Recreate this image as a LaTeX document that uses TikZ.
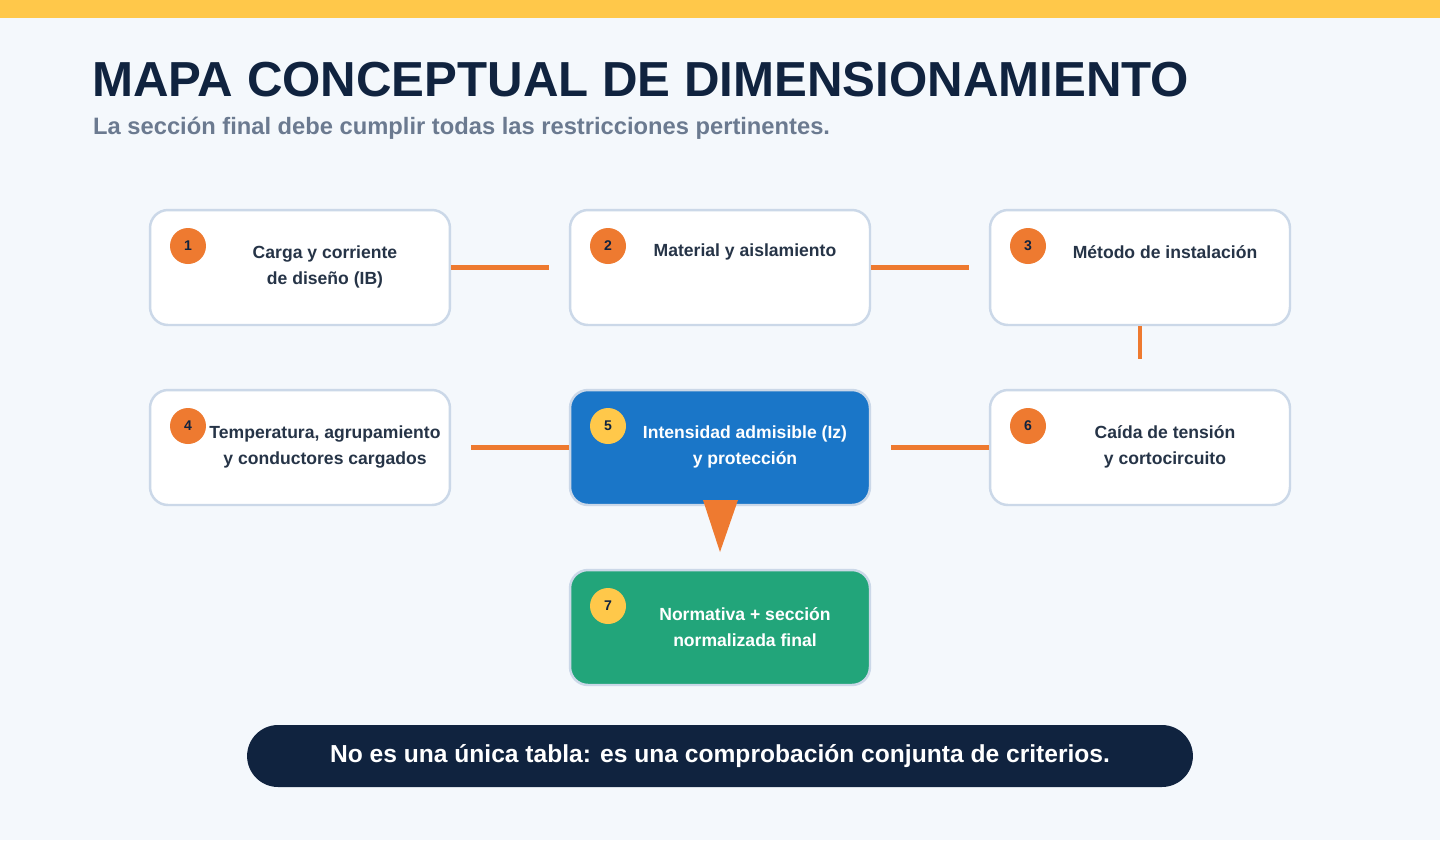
\documentclass[tikz,border=0pt]{standalone}
\usepackage{fontspec}
\setmainfont{Liberation Sans}
\usetikzlibrary{positioning}
\definecolor{bgc}{HTML}{F4F8FC}
\definecolor{topbar}{HTML}{FFC84A}
\definecolor{navy}{HTML}{10233F}
\definecolor{subgray}{HTML}{6B7A90}
\definecolor{boxline}{HTML}{CBD8E8}
\definecolor{accent}{HTML}{EE7A30}
\definecolor{bluebox}{HTML}{1A76C8}
\definecolor{greenbox}{HTML}{22A57A}
\definecolor{txt}{HTML}{263447}
\begin{document}
\begin{tikzpicture}[x=0.02cm,y=-0.02cm,
  stage/.style={draw=boxline,line width=1.4pt,rounded corners=0.36cm,fill=white,
    minimum width=6cm,minimum height=2.3cm,inner sep=0pt},
  stagetext/.style={font=\bfseries\fontsize{10}{15}\selectfont,text=txt,align=center},
  badge/.style={circle,fill=accent,minimum size=0.72cm,inner sep=0pt,
    font=\bfseries\fontsize{8}{8}\selectfont,text=navy},
  link/.style={draw=accent,line width=2.8pt}]
  % background
  \fill[bgc] (0,0) rectangle (1440,840);
  \fill[topbar] (0,0) rectangle (1440,18);
  \node[anchor=west,font=\bfseries\fontsize{28}{30}\selectfont,text=navy] (title) at (86,80) {MAPA CONCEPTUAL DE DIMENSIONAMIENTO};
  \node[anchor=west,font=\bfseries\fontsize{13.5}{16}\selectfont,text=subgray] (sub) at (87,128) {La sección final debe cumplir todas las restricciones pertinentes.};
  % boxes
  \node[stage] (b1) at (300,267.5) {};
  \node[stage] (b2) at (720,267.5) {};
  \node[stage] (b3) at (1140,267.5) {};
  \node[stage] (b4) at (300,447.5) {};
  \node[stage,fill=bluebox] (b5) at (720,447.5) {};
  \node[stage] (b6) at (1140,447.5) {};
  \node[stage,fill=greenbox] (b7) at (720,627.5) {};
  % texts
  \node[stagetext] (t1) at (325,267) {Carga y corriente\\de diseño (IB)};
  \node[stagetext] (t2) at (745,252) {Material y aislamiento};
  \node[stagetext] (t3) at (1165,252) {Método de instalación};
  \node[stagetext] (t4) at (325,447) {Temperatura, agrupamiento\\y conductores cargados};
  \node[stagetext,text=white] (t5) at (745,447) {Intensidad admisible (Iz)\\y protección};
  \node[stagetext] (t6) at (1165,447) {Caída de tensión\\y cortocircuito};
  \node[stagetext,text=white] (t7) at (745,627) {Normativa + sección\\normalizada final};
  % badges
  \node[badge] (n1) at (188,246) {1};
  \node[badge] (n2) at (608,246) {2};
  \node[badge] (n3) at (1028,246) {3};
  \node[badge] (n4) at (188,426) {4};
  \node[badge,fill=topbar] (n5) at (608,426) {5};
  \node[badge] (n6) at (1028,426) {6};
  \node[badge,fill=topbar] (n7) at (608,606) {7};
  % links
  \draw[link,shorten >=0.4cm] (b1.east) -- (b2.west);
  \draw[link,shorten >=0.4cm] (b2.east) -- (b3.west);
  \draw[link,shorten >=0.6cm] (b3.south) -- (b6.north);
  \draw[link,shorten <=0.4cm] (b4.east) -- (b5.west);
  \draw[link,shorten <=0.4cm] (b5.east) -- (b6.west);
  \coordinate (tip) at (720,552);
  \fill[accent] (703,500) -- (738,500) -- (tip) -- cycle;
  % footer
  \node[fill=navy,rounded corners=0.62cm,minimum width=18.92cm,minimum height=1.24cm,
    text=white,font=\bfseries\fontsize{14}{16}\selectfont] (foot) at (720,756)
    {No es una única tabla: es una comprobación conjunta de criterios.};
\end{tikzpicture}
\end{document}
